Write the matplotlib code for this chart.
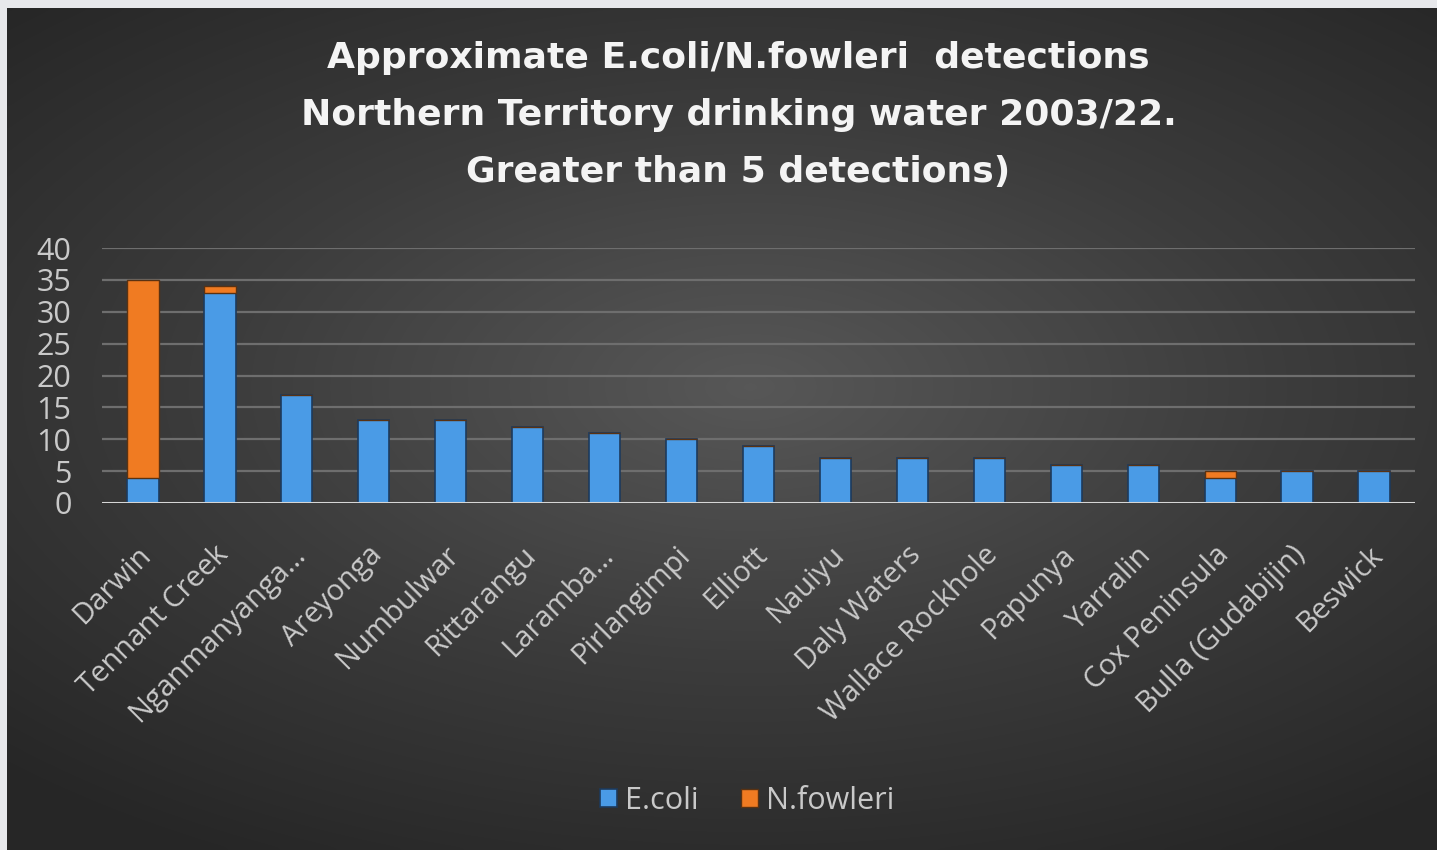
#!/usr/bin/env python3

import numpy as np
import matplotlib
matplotlib.use('Agg')
import matplotlib.pyplot as plt
import matplotlib.transforms as mtransforms
from matplotlib.colors import LinearSegmentedColormap

sites = [
        'Darwin',
        'Tennant Creek',
        'Nganmanyanga…',
        'Areyonga',
        'Numbulwar',
        'Rittarangu',
        'Laramba…',
        'Pirlangimpi',
        'Elliott',
        'Nauiyu',
        'Daly Waters',
        'Wallace Rockhole',
        'Papunya',
        'Yarralin',
        'Cox Peninsula',
        'Bulla (Gudabijin)',
        'Beswick',
]
ecoli =     [4, 33, 17, 13, 13, 12, 11, 10, 9, 7, 7, 7, 6, 6, 4, 5, 5]
nfowleri =  [31, 1, 0, 0, 0, 0, 0, 0, 0, 0, 0, 0, 0, 0, 1, 0, 0]
yticks = [0, 5, 10, 15, 20, 25, 30, 35, 40]

title = ('Approximate E.coli/N.fowleri  detections\n'
         'Northern Territory drinking water 2003/22.\n'
         'Greater than 5 detections)')

blue = '#4a9be6'
orange = '#f07b22'
text_grey = '#c9c9c9'

fig = plt.figure(figsize=(14.37, 8.5), dpi=100)
fig.patch.set_facecolor('#e7e8eb')

# Dark panel with a soft radial glow behind the plot.
bg = fig.add_axes([7/1437, 0, 1 - 7/1437, 1 - 8/850], zorder=-10)
ny, nx = 200, 340
yy, xx = np.mgrid[0:1:ny*1j, 0:1:nx*1j]
r = np.sqrt(((xx - 0.52) / 0.75)**2 + ((yy - 0.45) / 0.65)**2)
glow = LinearSegmentedColormap.from_list('glow', ['#575757', '#3c3c3c', '#262626'])
bg.imshow(np.clip(r, 0, 1), cmap=glow, aspect='auto', extent=(0, 1, 0, 1),
          interpolation='bicubic')
bg.set_axis_off()

ax = fig.add_axes([102/1437, 1 - 503/850, (1415 - 102)/1437, (503 - 248)/850])
ax.patch.set_visible(False)

x = np.arange(len(sites))
width = 0.41
ax.bar(x, ecoli, width, color=blue, edgecolor='#1d3a5c', linewidth=1.2,
       label='E.coli', zorder=3)
ax.bar(x, nfowleri, width, bottom=ecoli, color=orange, edgecolor='#5a3212',
       linewidth=1.0, label='N.fowleri', zorder=3)

ax.set_xlim(-0.53, len(sites) - 0.47)
ax.set_ylim(0, 40)
ax.set_yticks(yticks)
for y in yticks[1:]:
    ax.axhline(y, color='#6e6e6e', linewidth=1.6, zorder=1)
ax.axhline(0, color='#d6d6d6', linewidth=2.2, zorder=4)

for side in ['top', 'right', 'bottom', 'left']:
    ax.spines[side].set_visible(False)

ax.set_xticks(x)
ax.set_xticklabels(sites, rotation=45, ha='right', va='top',
                   rotation_mode='anchor', fontsize=21, color=text_grey,
                   family='Open Sans')
ax.tick_params(axis='x', length=0, pad=27)
# nudge the slanted labels a little to the left of each tick
shift = mtransforms.ScaledTranslation(-6/100, 0, fig.dpi_scale_trans)
for label in ax.get_xticklabels():
    label.set_transform(label.get_transform() + shift)

ax.tick_params(axis='y', length=0, pad=22, labelsize=22, labelcolor=text_grey)
for label in ax.get_yticklabels():
    label.set_family('Open Sans')

fig.text(0.514, 0.952, title, ha='center', va='top', fontsize=26,
         fontweight='bold', color='#f4f4f4', linespacing=1.86,
         family='DejaVu Sans')

fig.legend(loc='center', bbox_to_anchor=(0.52, 0.058), ncol=2, frameon=False,
           handlelength=0.55, handleheight=0.55, handletextpad=0.25,
           columnspacing=1.4, labelcolor=text_grey,
           prop={'family': 'Open Sans', 'size': 22})

fig.savefig('out.png', dpi=100, facecolor=fig.get_facecolor())
